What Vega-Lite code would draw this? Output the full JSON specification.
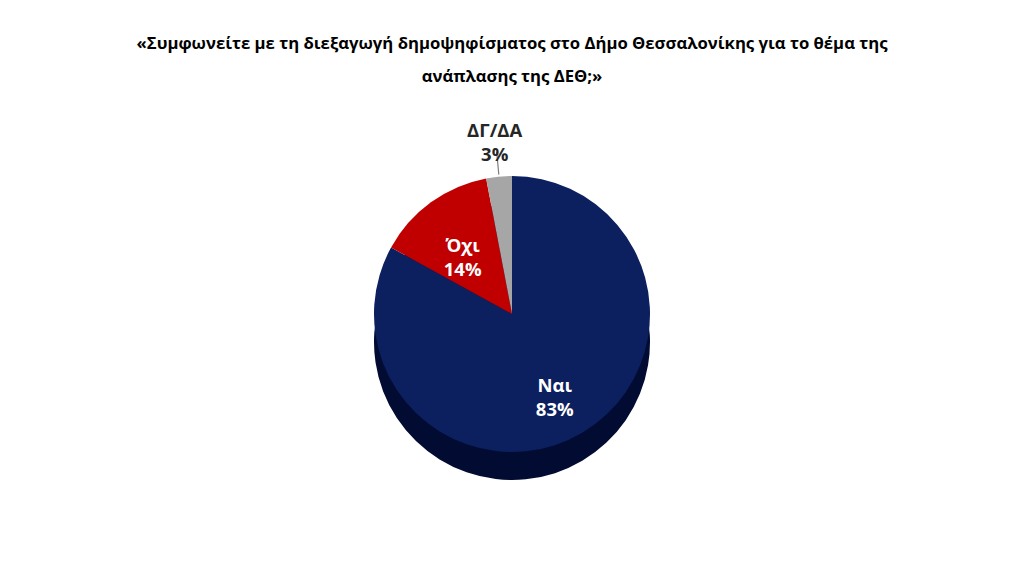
{
  "$schema": "https://vega.github.io/schema/vega-lite/v6.json",
  "width": 1024,
  "height": 576,
  "autosize": {"type": "fit", "contains": "padding"},
  "padding": {"top": 36, "bottom": 50, "left": 0, "right": 0},
  "background": "white",
  "config": {"view": {"stroke": null}},
  "title": {
    "text": [
      "«Συμφωνείτε με τη διεξαγωγή δημοψηφίσματος στο Δήμο Θεσσαλονίκης για το θέμα της",
      "ανάπλασης της ΔΕΘ;»"
    ],
    "font": "Open Sans",
    "fontSize": 16.7,
    "fontWeight": "bold",
    "color": "#000000",
    "lineHeight": 33,
    "anchor": "middle",
    "offset": 16
  },
  "data": {
    "values": [
      {"answer": "Ναι", "share": 83, "order": 1},
      {"answer": "Όχι", "share": 14, "order": 2},
      {"answer": "ΔΓ/ΔΑ", "share": 3, "order": 3}
    ]
  },
  "transform": [
    {"window": [{"op": "sum", "field": "share", "as": "cum_end"}], "sort": [{"field": "order"}], "frame": [null, 0]},
    {"calculate": "datum.cum_end - datum.share", "as": "cum_start"},
    {"calculate": "datum.cum_end - datum.share / 2", "as": "mid"},
    {"calculate": "[datum.answer, datum.share + '%']", "as": "label"}
  ],
  "layer": [
    {
      "mark": {"type": "arc", "outerRadius": 138, "yOffset": 28, "fill": "#020c33", "stroke": null},
      "encoding": {
        "theta": {"field": "cum_start", "type": "quantitative", "scale": {"domain": [0, 100], "range": [0, 6.283185307179586]}},
        "theta2": {"field": "cum_end"}
      }
    },
    {
      "mark": {"type": "arc", "outerRadius": 138, "stroke": null},
      "encoding": {
        "theta": {"field": "cum_start", "type": "quantitative", "scale": {"domain": [0, 100], "range": [0, 6.283185307179586]}},
        "theta2": {"field": "cum_end"},
        "color": {
          "field": "answer",
          "type": "nominal",
          "scale": {"domain": ["Ναι", "Όχι", "ΔΓ/ΔΑ"], "range": ["#0c1f5e", "#c00000", "#a6a6a6"]},
          "legend": null
        }
      }
    },
    {
      "transform": [{"filter": "datum.answer === 'ΔΓ/ΔΑ'"}],
      "mark": {"type": "arc", "innerRadius": 140, "outerRadius": 163, "stroke": "#7f7f7f", "strokeWidth": 1.2, "fill": null},
      "encoding": {
        "theta": {"field": "mid", "type": "quantitative", "scale": {"domain": [0, 100], "range": [0, 6.283185307179586]}},
        "theta2": {"field": "mid"}
      }
    },
    {
      "transform": [{"filter": "datum.answer !== 'ΔΓ/ΔΑ'"}],
      "mark": {"type": "text", "radius": 84, "font": "Open Sans", "fontSize": 18.5, "fontWeight": "bold", "color": "white", "lineHeight": 24, "baseline": "middle", "align": "center"},
      "encoding": {
        "theta": {"field": "mid", "type": "quantitative", "scale": {"domain": [0, 100], "range": [0, 6.283185307179586]}},
        "text": {"field": "label"}
      }
    },
    {
      "transform": [{"filter": "datum.answer === 'ΔΓ/ΔΑ'"}],
      "mark": {"type": "text", "radius": 184, "font": "Open Sans", "fontSize": 18.5, "fontWeight": "bold", "color": "#262626", "lineHeight": 24, "baseline": "middle", "align": "center"},
      "encoding": {
        "theta": {"field": "mid", "type": "quantitative", "scale": {"domain": [0, 100], "range": [0, 6.283185307179586]}},
        "text": {"field": "label"}
      }
    }
  ]
}
